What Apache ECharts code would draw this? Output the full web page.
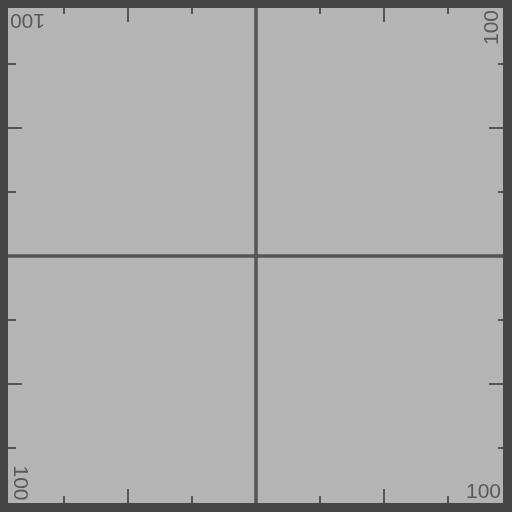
<!DOCTYPE html>
<html>
<head>
<meta charset="utf-8">
<script src="https://cdn.jsdelivr.net/npm/echarts@6/dist/echarts.min.js"></script>
<style>
    html, body { margin:0; padding:0; width:512px; height:512px; background:#454545; overflow:hidden; }
    #chart { position:absolute; left:0; top:0; width:512px; height:512px; }
    /* dark frame laid over the chart */
    #frame { position:absolute; left:0; top:0; width:512px; height:512px; box-sizing:border-box;
             border-style:solid; border-color:#454545; border-width:8px 9px 9px 8px; pointer-events:none; }
</style>
</head>
<body>
<div id="chart"></div>
<div id="frame"></div>
<script>
// axis range in units of 64px, a tick every unit (major every 2)
const xRange = [0, 8];
const yRange = [0, 8];
const majorStep = 2;
const minorSplit = 2;
// the cross in the middle
const crossX = [4];
const crossY = [4];
// corner texts: top-left, top-right, bottom-left, bottom-right
const cornerLabels = ['100', '100', '100', '100'];

const lineColor = '#555555';
const myChart = echarts.init(document.getElementById('chart'));

function edgeAxis(position, range, longLen, shortLen){
    return {
        type:'value',
        position:position,
        min:range[0],
        max:range[1],
        interval:majorStep,
        axisLine:{ show:false, onZero:false },
        axisLabel:{ show:false },
        splitLine:{ show:false },
        axisTick:{ show:true, inside:true, length:longLen, lineStyle:{ color:lineColor, width:2 } },
        minorTick:{ show:true, splitNumber:minorSplit, length:shortLen, lineStyle:{ color:lineColor, width:2 } },
        minorSplitLine:{ show:false }
    };
}

const labelFont = '21px "Liberation Sans"';
const cornerPos = [
    { x:27.5, y:19.5, rotation:Math.PI },
    { x:492.5, y:27.5, rotation:Math.PI / 2 },
    { x:19.5, y:483, rotation:-Math.PI / 2 },
    { x:483.5, y:492, rotation:0 }
];

let option = {
    backgroundColor:'#b4b4b4',
    animation:false,
    grid:{ left:0, top:0, right:0, bottom:0, show:false, outerBoundsMode:'none' },
    xAxis:[
        edgeAxis('bottom', xRange, 23, 16),
        edgeAxis('top', xRange, 22, 14)
    ],
    yAxis:[
        edgeAxis('left', yRange, 22, 16),
        edgeAxis('right', yRange, 23, 14)
    ],
    graphic:cornerLabels.map((txt, i)=>({
        type:'text',
        x:cornerPos[i].x,
        y:cornerPos[i].y,
        rotation:cornerPos[i].rotation,
        silent:true,
        style:{ text:txt, font:labelFont, fill:'#5a5a5a', align:'center', verticalAlign:'middle' }
    })),
    series:[{
        type:'line',
        xAxisIndex:0,
        yAxisIndex:0,
        data:[],
        markLine:{
            silent:true,
            symbol:'none',
            label:{ show:false },
            lineStyle:{ type:'solid', color:lineColor, width:3.5 },
            data:crossX.map(v=>({ xAxis:v })).concat(crossY.map(v=>({ yAxis:v })))
        }
    }]
};
myChart.setOption(option);
</script>
</body>
</html>
